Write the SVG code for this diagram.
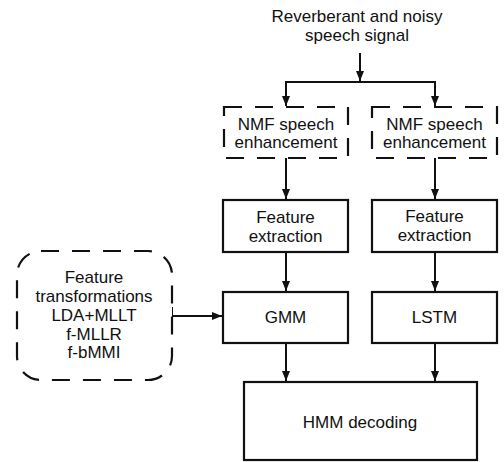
<svg xmlns="http://www.w3.org/2000/svg" width="504" height="462" viewBox="0 0 504 462">
<style>
text{font-family:"Liberation Sans",Arial,sans-serif;font-size:17px;fill:#111;text-anchor:middle}
.box{fill:#fff;stroke:#111;stroke-width:2.2}
.dash{fill:#fff;stroke:#111;stroke-width:2.2;stroke-dasharray:18 13}
.ln{fill:none;stroke:#111;stroke-width:2}
</style>
<defs>
<marker id="ah" viewBox="0 0 10 10" refX="10" refY="5" markerWidth="10" markerHeight="10" markerUnits="userSpaceOnUse" orient="auto">
<path d="M0,1 L10,5 L0,9 Z" fill="#111"/>
</marker>
</defs>
<g id="connectors">
<line class="ln" x1="360" y1="53" x2="360" y2="81" marker-end="url(#ah)"/>
<polyline class="ln" points="286,106 286,82 435,82 435,106"/>
<line class="ln" x1="286" y1="83" x2="286" y2="106" marker-end="url(#ah)"/>
<line class="ln" x1="435" y1="83" x2="435" y2="106" marker-end="url(#ah)"/>
<line class="ln" x1="286" y1="158" x2="286" y2="199" marker-end="url(#ah)"/>
<line class="ln" x1="435" y1="158" x2="435" y2="199" marker-end="url(#ah)"/>
<line class="ln" x1="286" y1="252" x2="286" y2="291" marker-end="url(#ah)"/>
<line class="ln" x1="435" y1="252" x2="435" y2="291" marker-end="url(#ah)"/>
<line class="ln" x1="286" y1="343" x2="286" y2="381" marker-end="url(#ah)"/>
<line class="ln" x1="435" y1="343" x2="435" y2="381" marker-end="url(#ah)"/>
<line class="ln" x1="172" y1="316" x2="222" y2="316" marker-end="url(#ah)"/>
<line class="ln" x1="172" y1="307" x2="172" y2="325"/>
</g>
<g id="input">
<text x="357" y="22">Reverberant and noisy</text>
<text x="357" y="41">speech signal</text>
</g>
<g id="nmf1">
<rect class="dash" x="224" y="107" width="124" height="51"/>
<text x="286" y="130">NMF speech</text>
<text x="286" y="148">enhancement</text>
</g>
<g id="nmf2">
<rect class="dash" x="372" y="107" width="125" height="51"/>
<text x="434.5" y="130">NMF speech</text>
<text x="434.5" y="148">enhancement</text>
</g>
<g id="fe1">
<rect class="box" x="223" y="200" width="125" height="52"/>
<text x="285.5" y="223">Feature</text>
<text x="285.5" y="242">extraction</text>
</g>
<g id="fe2">
<rect class="box" x="372" y="200" width="125" height="52"/>
<text x="434.5" y="222">Feature</text>
<text x="434.5" y="241">extraction</text>
</g>
<g id="gmm">
<rect class="box" x="223" y="292" width="125" height="51"/>
<text x="285.5" y="323">GMM</text>
</g>
<g id="lstm">
<rect class="box" x="372" y="292" width="125" height="51"/>
<text x="434.5" y="323">LSTM</text>
</g>
<g id="ft">
<rect class="dash" x="17" y="251" width="155" height="129" rx="24" ry="24"/>
<text x="94" y="283">Feature</text>
<text x="94" y="302">transformations</text>
<text x="94" y="321">LDA+MLLT</text>
<text x="94" y="340">f-MLLR</text>
<text x="94" y="358">f-bMMI</text>
</g>
<g id="hmm">
<rect class="box" x="244" y="382" width="233" height="78"/>
<text x="360" y="428">HMM decoding</text>
</g>
</svg>
